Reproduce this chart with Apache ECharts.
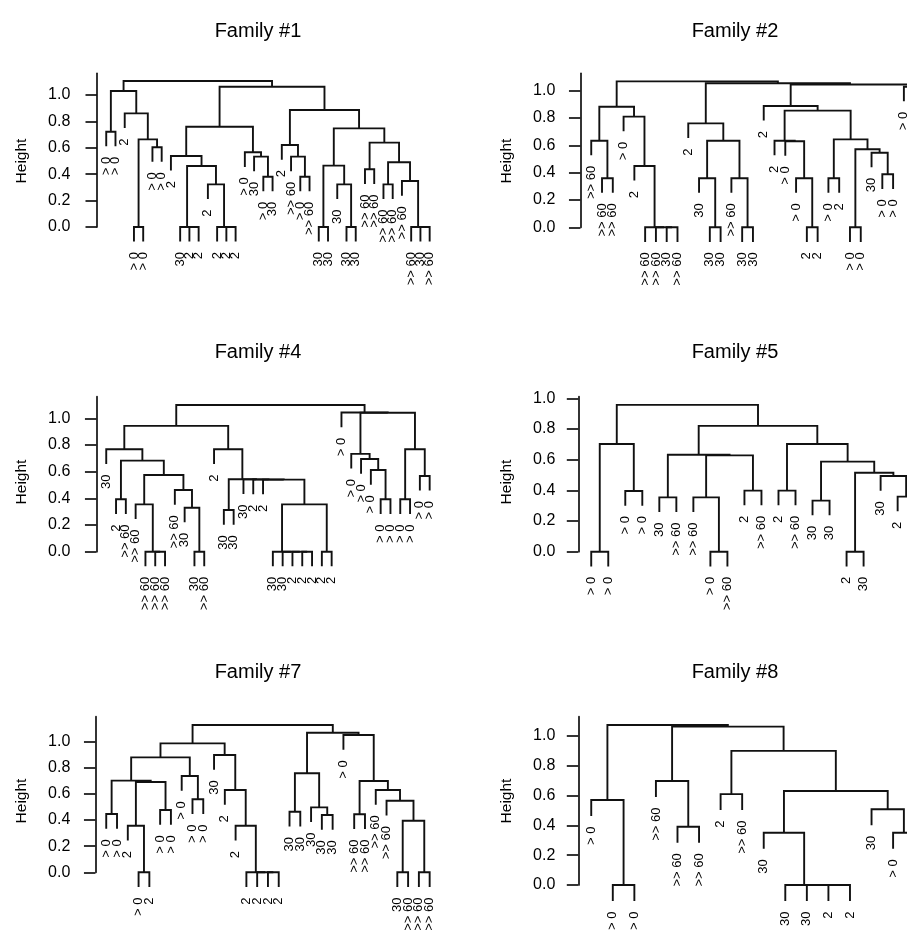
<!DOCTYPE html>
<html>
<head>
<meta charset="utf-8">
<script src="https://cdn.jsdelivr.net/npm/echarts@6/dist/echarts.min.js"></script>
<style>
  html, body { margin: 0; padding: 0; background: #ffffff; overflow: hidden; }
  #chart { width: 907px; height: 933px; }
</style>
</head>
<body>
<div id="chart"></div>
<script>
// ---- shared axis ticks ----
const yTicks = [0, 0.2, 0.4, 0.6, 0.8, 1.0];

// ---- Family #1 ----
// Tree nodes are [mergeHeight, left, right]; a plain number is a leaf index into the label list.
const labels1 = ['> 0', '> 0', '2', '> 0', '> 0', '> 0', '> 0', '2', '30', '2', '2', '2', '2', '2', '2',
  '> 0', '30', '> 0', '30', '2', '>> 60', '> 0', '>> 60', '30', '30', '30', '30', '30',
  '>> 60', '>> 60', '>> 60', '>> 60', '>> 60', '>> 60', '30', '>> 60'];
const tree1 = [1.106,
  [1.030, [0.722, 0, 1], [0.861, 2, [0.664, [0, 3, 4], [0.604, 5, 6]]]],
  [1.063,
    [0.760,
      [0.538, 7, [0.462, [0, 8, [0, 9, 10]], [0.323, 11, [0, 12, [0, 13, 14]]]]],
      [0.566, 15, [0.533, 16, [0.381, 17, 18]]]],
    [0.886,
      [0.621, 19, [0.533, 20, [0.381, 21, 22]]],
      [0.747,
        [0.465, [0, 23, 24], [0.323, 25, [0, 26, 27]]],
        [0.639, [0.437, 28, 29], [0.490, [0.323, 30, 31], [0.348, 32, [0, 33, [0, 34, 35]]]]]]]]];

// ---- Family #2 ----
const labels2 = ['>> 60', '>> 60', '>> 60', '> 0', '2', '>> 60', '>> 60', '30', '>> 60', '2', '30', '30', '30',
  '>> 60', '30', '30', '2', '2', '> 0', '> 0', '2', '2', '> 0', '2', '> 0', '> 0', '30', '> 0', '> 0', '> 0', '> 0'];
const tree2 = [1.068,
  [0.883, [0.634, 0, [0.359, 1, 2]], [0.810, 3, [0.449, 4, [0, 5, [0, 6, [0, 7, 8]]]]]],
  [1.054,
    [0.761, 9, [0.634, [0.359, 10, [0, 11, 12]], [0.359, 13, [0, 14, 15]]]],
    [1.045,
      [0.888, 16,
        [0.854,
          [0.634, 17, [0.630, 18, [0.359, 19, [0, 20, 21]]]],
          [0.644, [0.359, 22, 23], [0.571, [0, 24, 25], [0.546, 26, [0.388, 27, 28]]]]]],
      [1.029, 29, 30]]]];

// ---- Family #4 ----
const labels4 = ['30', '2', '>> 60', '>> 60', '>> 60', '>> 60', '>> 60', '>> 60', '30', '30', '>> 60', '2',
  '30', '30', '30', '2', '2', '30', '30', '2', '2', '2', '2', '2',
  '> 0', '> 0', '> 0', '> 0', '> 0', '> 0', '> 0', '> 0', '> 0', '> 0'];
const tree4 = [1.100,
  [0.943,
    [0.768, 0, [0.683, [0.393, 1, 2],
      [0.575, [0.355, 3, [0, 4, [0, 5, 6]]], [0.4625, 7, [0.330, 8, [0, 9, 10]]]]]],
    [0.768, 11,
      [0.543, [0.3125, 12, 13], [0.542, 14, [0.541, 15, [0.540, 16,
        [0.355, [0, 17, [0, 18, [0, 19, [0, 20, 21]]]], [0, 22, 23]]]]]]]],
  [1.043, 24, [1.042,
    [0.733, 25, [0.695, 26, [0.6125, 27, [0.393, 28, 29]]]],
    [0.768, [0.393, 30, 31], [0.568, 32, 33]]]]];

// ---- Family #5 ----
const labels5 = ['> 0', '> 0', '> 0', '> 0', '30', '>> 60', '>> 60', '> 0', '>> 60', '2', '>> 60',
  '2', '>> 60', '30', '30', '2', '30', '30', '2', '30'];
const tree5 = [0.957,
  [0.702, [0, 0, 1], [0.396, 2, 3]],
  [0.820,
    [0.632, [0.354, 4, 5], [0.628, [0.354, 6, [0, 7, 8]], [0.398, 9, 10]]],
    [0.702, [0.398, 11, 12],
      [0.587, [0.333, 13, 14], [0.515, [0, 15, 16], [0.493, 17, [0.359, 18, 19]]]]]]];

// ---- Family #7 ----
const labels7 = ['> 0', '> 0', '2', '> 0', '2', '> 0', '> 0', '> 0', '> 0', '> 0', '30', '2', '2', '2', '2', '2', '2',
  '30', '30', '30', '30', '30', '> 0', '>> 60', '>> 60', '>> 60', '>> 60', '30', '>> 60', '>> 60', '>> 60'];
const tree7 = [1.128,
  [0.987,
    [0.880,
      [0.702, [0.446, 0, 1], [0.691, [0.357, 2, [0, 3, 4]], [0.477, 5, 6]]],
      [0.737, 7, [0.559, 8, 9]]],
    [0.898, 10, [0.630, 11, [0.357, 12, [0, 13, [0, 14, [0, 15, 16]]]]]]],
  [1.069,
    [0.758, [0.464, 17, 18], [0.497, 19, [0.439, 20, 21]]],
    [1.051, 22, [0.699, [0.444, 23, 24],
      [0.630, 25, [0.548, 26, [0.395, [0, 27, 28], [0, 29, 30]]]]]]]];

// ---- Family #8 ----
const labels8 = ['> 0', '> 0', '> 0', '>> 60', '>> 60', '>> 60', '2', '>> 60', '30', '30', '30', '2', '2', '30', '> 0', '> 0'];
const tree8 = [1.074,
  [0.570, 0, [0, 1, 2]],
  [1.063,
    [0.698, 3, [0.391, 4, 5]],
    [0.900, [0.610, 6, 7],
      [0.631, [0.351, 8, [0, 9, [0, 10, [0, 11, 12]]]], [0.508, 13, [0.351, 14, 15]]]]]];

const families = [
  { name: 'Family #1', labels: labels1, tree: tree1 },
  { name: 'Family #2', labels: labels2, tree: tree2 },
  { name: 'Family #4', labels: labels4, tree: tree4 },
  { name: 'Family #5', labels: labels5, tree: tree5 },
  { name: 'Family #7', labels: labels7, tree: tree7 },
  { name: 'Family #8', labels: labels8, tree: tree8 }
];

// ---- page layout (pixels) ----
const PAGE_W = 907;
const PLOT_W = 349.3;   // full width of one dendrogram panel; right-hand panels run past the page edge
const panels = [
  { left: 93.3,  plotTop: 73.3,  y0: 227.0, y1: 95.0,  titleX: 258, titleY: 31,  heightX: 22,  heightY: 161 },
  { left: 578.3, plotTop: 73.3,  y0: 227.3, y1: 90.7,  titleX: 735, titleY: 31,  heightX: 507, heightY: 161 },
  { left: 93.3,  plotTop: 396.7, y0: 551.7, y1: 418.3, titleX: 258, titleY: 352, heightX: 22,  heightY: 482 },
  { left: 578.3, plotTop: 396.7, y0: 551.7, y1: 398.3, titleX: 735, titleY: 352, heightX: 507, heightY: 482 },
  { left: 93.3,  plotTop: 716.7, y0: 872.3, y1: 741.7, titleX: 258, titleY: 672, heightX: 22,  heightY: 801 },
  { left: 578.3, plotTop: 716.7, y0: 885.0, y1: 736.0, titleX: 735, titleY: 672, heightX: 507, heightY: 801 }
];

const FONT = '"Liberation Sans", Arial, Helvetica, sans-serif';
const INK = '#111111';
const LABEL_GAP = 10.5;

// Walk a tree: leaf i sits at x = i + 1, leaves hang 10% of the top height below their merge.
function buildDendrogram(tree) {
  const hang = 0.1 * tree[0];
  const links = [];
  const tips = [];
  function walk(node, parentH) {
    if (typeof node === 'number') {
      const x = node + 1;
      const end = parentH - hang;
      tips.push([x, end, node]);
      return { x: x, y: end };
    }
    const h = node[0];
    const a = walk(node[1], h);
    const b = walk(node[2], h);
    links.push([a.x, a.y, b.x, b.y, h]);
    return { x: (a.x + b.x) / 2, y: h };
  }
  walk(tree, tree[0]);
  return { links: links, tips: tips };
}

const grid = [], xAxis = [], yAxis = [], series = [], graphic = [];

families.forEach(function (fam, i) {
  const p = panels[i];
  const n = fam.labels.length;
  const pad = 0.04 * (n - 1);
  const xMin = 1 - pad;
  const pxPerLeaf = PLOT_W / (n - 1 + 2 * pad);
  // visible part of the panel (cut at the page edge)
  const gridW = Math.min(PLOT_W, PAGE_W - p.left);
  const xMax = xMin + gridW / pxPerLeaf;
  const pxPerUnit = p.y0 - p.y1;
  const ymax = (p.y0 - p.plotTop) / pxPerUnit;

  grid.push({ left: p.left, top: p.plotTop, width: gridW, height: p.y0 - p.plotTop });
  xAxis.push({ gridIndex: i, type: 'value', min: xMin, max: xMax, show: false });
  yAxis.push({
    gridIndex: i, type: 'value', min: 0, max: ymax,
    splitLine: { show: false },
    axisLine: { show: true, lineStyle: { color: INK, width: 1.7 } },
    axisTick: { show: true, inside: false, length: 11.5, customValues: yTicks, lineStyle: { color: INK, width: 1.7 } },
    axisLabel: {
      show: true, customValues: yTicks, margin: 23,
      formatter: function (v) { return Number(v).toFixed(1); },
      fontSize: 16, color: '#000', fontFamily: FONT
    }
  });

  const d = buildDendrogram(fam.tree);

  series.push({
    type: 'custom', xAxisIndex: i, yAxisIndex: i, clip: false, silent: true, animation: false,
    data: d.links,
    encode: { x: [0, 2], y: [1, 3, 4] },
    renderItem: function (params, api) {
      const pa = api.coord([api.value(0), api.value(1)]);
      const pb = api.coord([api.value(2), api.value(3)]);
      const yh = api.coord([api.value(0), api.value(4)])[1];
      return {
        type: 'polyline',
        shape: { points: [[pa[0], pa[1]], [pa[0], yh], [pb[0], yh], [pb[0], pb[1]]] },
        style: { stroke: INK, lineWidth: 1.9, fill: 'none', lineJoin: 'miter' }
      };
    }
  });

  series.push({
    type: 'custom', xAxisIndex: i, yAxisIndex: i, clip: false, silent: true, animation: false,
    data: d.tips,
    encode: { x: 0, y: 1 },
    renderItem: function (params, api) {
      const pt = api.coord([api.value(0), api.value(1)]);
      return {
        type: 'text',
        x: pt[0], y: pt[1] + LABEL_GAP,
        rotation: Math.PI / 2,
        style: {
          text: fam.labels[api.value(2)],
          fill: '#000',
          font: '13px ' + FONT,
          align: 'right', verticalAlign: 'middle',
          textAlign: 'right', textVerticalAlign: 'middle'
        }
      };
    }
  });

  graphic.push({
    type: 'text', x: p.titleX, y: p.titleY, silent: true,
    style: { text: fam.name, fill: '#000', font: '20px ' + FONT,
      align: 'center', verticalAlign: 'middle', textAlign: 'center', textVerticalAlign: 'middle' }
  });
  graphic.push({
    type: 'text', x: p.heightX, y: p.heightY, rotation: Math.PI / 2, silent: true,
    style: { text: 'Height', fill: '#000', font: '15.5px ' + FONT,
      align: 'center', verticalAlign: 'middle', textAlign: 'center', textVerticalAlign: 'middle' }
  });
});

const chart = echarts.init(document.getElementById('chart'), null, { renderer: 'canvas' });
chart.setOption({
  backgroundColor: '#ffffff',
  animation: false,
  grid: grid,
  xAxis: xAxis,
  yAxis: yAxis,
  series: series,
  graphic: graphic
});
</script>
</body>
</html>
